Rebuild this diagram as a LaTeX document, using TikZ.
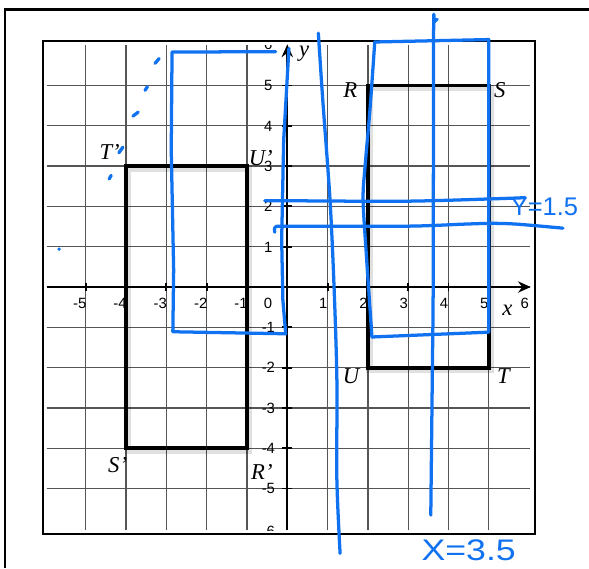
\documentclass[tikz,border=0pt]{standalone}
\usepackage{fontspec}
\setmainfont{Liberation Serif}
\newfontfamily\tickfont{Liberation Sans}
\newfontfamily\handfont{Liberation Sans}
\usetikzlibrary{arrows.meta}
\definecolor{ink}{RGB}{16,114,240}
\definecolor{gridgray}{RGB}{85,85,85}
\begin{document}
\begin{tikzpicture}[x=1cm,y=1cm,
  gridline/.style={gridgray, line width=0.9pt},
  axisline/.style={black, line width=1.4pt, -{Stealth[length=9pt,width=8pt,inset=3pt]}},
  tickmark/.style={black, line width=1.3pt},
  ticklabel/.style={font=\tickfont\fontsize{10.5}{12}\selectfont, inner sep=0pt, text height=7.5pt, text depth=0pt},
  ptlabel/.style={font=\fontsize{16}{18}\selectfont\itshape, inner sep=0pt, text height=10.6pt, text depth=0pt},
  shapeline/.style={black, line width=2.8pt},
  shadowline/.style={black, opacity=0.12, line width=4.5pt},
  pen/.style={ink, line width=2.3pt, line cap=round, line join=round},
  handtext/.style={ink, inner sep=0pt}
]
\useasboundingbox (-7.129,-6.973) rectangle (7.486,7.122);
\fill[white] (-7.129,-6.973) rectangle (7.486,7.122);
% outer frame
\draw[black, line width=2.1pt] (-7.005,-6.973) -- (-7.005,6.898) -- (7.486,6.898);
% grid
\foreach \i in {-5,...,5} {
  \draw[gridline] (\i,-6.03) -- (\i,6.0);
  \draw[gridline] (-5.97,\i) -- (6.03,\i);
}
% box
\draw[black, line width=1.4pt] (-6.07,-6.12) rectangle (6.15,6.1);
% axes
\draw[axisline] (-5.97,0) -- (6.04,0);
\draw[axisline] (0,-6.03) -- (0,6.02);
\foreach \i in {-5,...,-1,1,2,3,4,5} {
  \draw[tickmark] (\i,-0.1) -- (\i,0.1);
  \draw[tickmark] (-0.12,\i) -- (0.12,\i);
}
% tick labels
\foreach \i in {-5,...,-1} \node[ticklabel] (xt\i) at (\i-0.15,-0.4) {\i};
\foreach \i in {1,...,6} \node[ticklabel] (xt\i) at (\i-0.11,-0.4) {\i};
\node[ticklabel] (xt0) at (-0.48,-0.4) {0};
\foreach \i in {-5,...,-1,1,2,3,4,5} \node[ticklabel] (yt\i) at (-0.47,\i) {\i};
\begin{scope}
  \clip (-6.07,-6.03) rectangle (6.15,6.0);
  \node[ticklabel] (yt6) at (-0.47,6.03) {6};
  \node[ticklabel] (ytm6) at (-0.47,-6.06) {-6};
\end{scope}
% rectangles with soft shadow
\begin{scope}[shift={(0.04,-0.06)}]
  \draw[shadowline] (2,5) rectangle (5,-2);
  \draw[shadowline] (-4,3) rectangle (-1,-4);
\end{scope}
\draw[shapeline] (2,5) rectangle (5,-2);
\draw[shapeline] (-4,3) rectangle (-1,-4);
% point labels
\node[ptlabel] (R) at (1.56,4.9) {R};
\node[ptlabel] (S) at (5.27,4.89) {S};
\node[ptlabel] (T) at (5.36,-2.21) {T};
\node[ptlabel] (U) at (1.58,-2.21) {U};
\node[ptlabel] (Tp) at (-4.41,3.35) {T’};
\node[ptlabel] (Up) at (-0.66,3.2) {U’};
\node[ptlabel] (Sp) at (-4.21,-4.42) {S’};
\node[ptlabel] (Rp) at (-0.63,-4.59) {R’};
\node[ptlabel, text height=7.3pt] (xlab) at (5.46,-0.57) {x};
\node[ptlabel, text height=7.3pt] (ylab) at (0.42,5.86) {y};
% blue hand drawing
\draw[pen] (-0.29,5.84) -- (-2.86,5.83) -- (-2.88,3.4) -- (-2.82,0.42) -- (-2.84,-1.11) -- (-0.04,-1.16) -- (-0.11,-0.32) -- (-0.14,1.17) -- (-0.09,3.65) -- (0.04,5.92);
\draw[pen] (-4.42,2.68) -- (-4.37,2.77);
\draw[pen] (-4.18,3.33) -- (-4.08,3.47);
\draw[pen] (-3.83,4.24) -- (-3.70,4.34);
\draw[pen] (-3.53,4.88) -- (-3.47,4.97);
\draw[pen] (-3.28,5.55) -- (-3.18,5.67);
\fill[ink] (-5.66,0.94) circle (1.3pt);
\draw[pen] plot[smooth] coordinates {(0.77,6.3) (0.88,4.64) (1.06,2.16) (1.16,0) (1.23,-2.3) (1.23,-4.79) (1.31,-6.61)};
\draw[pen] (2.17,6.08) -- (5.0,6.14) -- (5.0,-1.12) -- (2.1,-1.24);
\draw[pen] plot[smooth] coordinates {(2.1,-1.24) (2.02,-0.07) (1.97,0.67) (1.88,2.16) (1.93,3.0) (2.05,4.39) (2.17,6.08)};
\draw[pen] plot[smooth] coordinates {(3.72,6.64) (3.65,6.58) (3.63,6.3) (3.62,0.17) (3.6,-2.0) (3.56,-5.66)};
\draw[pen] plot[smooth] coordinates {(-0.56,2.14) (0.06,2.14) (2.98,2.13) (5.46,2.2) (5.9,2.22)};
\draw[pen] plot[smooth] coordinates {(-0.31,1.36) (-0.29,1.49) (0.06,1.51) (2.98,1.51) (4.37,1.56) (5.07,1.58) (5.7,1.56) (6.84,1.46)};
\node[handtext, font=\handfont\fontsize{18}{20}\selectfont] (ylabel) at (6.38,2.0) {Y=1.5};
\node[handtext, font=\handfont\fontsize{21}{24}\selectfont, xscale=1.2] (xlabel) at (4.5,-6.52) {X=3.5};
\end{tikzpicture}
\end{document}
